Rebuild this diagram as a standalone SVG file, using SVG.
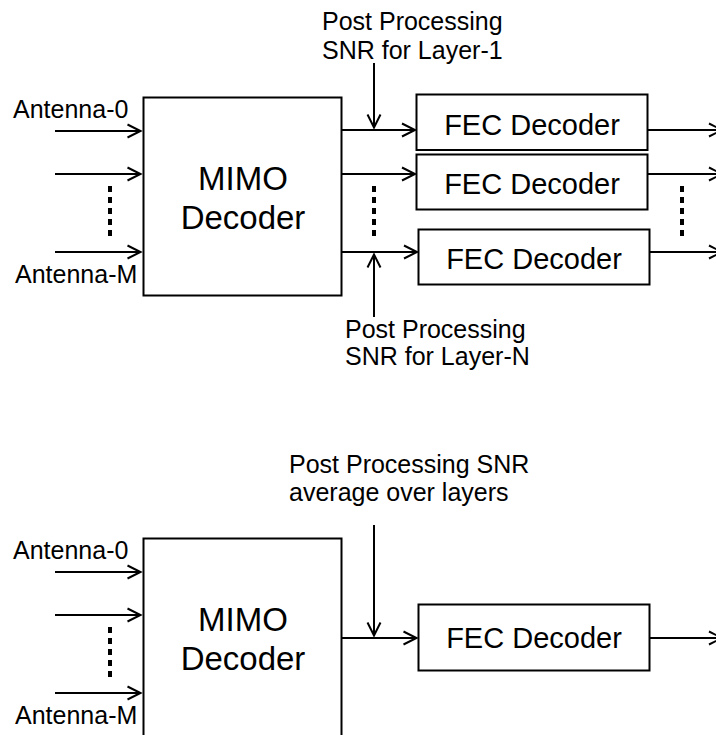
<svg xmlns="http://www.w3.org/2000/svg" width="716" height="735" viewBox="0 0 716 735">
<style>
  text { font-family: "Liberation Sans", Arial, sans-serif; fill: #000; }
  .lbl { font-size: 25px; }
  .mimo { font-size: 33px; text-anchor: middle; }
  .fec { font-size: 29px; text-anchor: middle; }
  .box { fill: #fff; stroke: #000; stroke-width: 2; }
  .ln { fill: none; stroke: #000; stroke-width: 2; }
  .arr { fill: none; stroke: #000; stroke-width: 2; marker-end: url(#ah); }
  .dots { fill: none; stroke: #000; stroke-width: 4; stroke-dasharray: 6 5; }
</style>
<defs>
  <marker id="ah" markerUnits="userSpaceOnUse" markerWidth="20" markerHeight="20" refX="0" refY="0" viewBox="-15 -10 20 20" orient="auto" overflow="visible">
    <path d="M-13,-6.5 L0,0 L-13,6.5" fill="none" stroke="#000" stroke-width="2"/>
  </marker>
</defs>
<rect x="0" y="0" width="716" height="735" fill="#fff"/>

<!-- Top diagram -->
<g id="mimo1">
  <rect class="box" x="143.5" y="97.5" width="198" height="198"/>
  <text class="mimo" x="243" y="190">MIMO</text>
  <text class="mimo" x="243" y="229">Decoder</text>
</g>
<g id="fec1">
  <rect class="box" x="416.5" y="94.5" width="231" height="55.5"/>
  <text class="fec" x="532" y="135">FEC Decoder</text>
</g>
<g id="fec2">
  <rect class="box" x="416.5" y="154.5" width="231" height="55"/>
  <text class="fec" x="532" y="194">FEC Decoder</text>
</g>
<g id="fec3">
  <rect class="box" x="418.5" y="229.5" width="231" height="55"/>
  <text class="fec" x="534" y="269">FEC Decoder</text>
</g>
<g id="labels-top">
  <text class="lbl" x="13" y="118">Antenna-0</text>
  <text class="lbl" x="15" y="283">Antenna-M</text>
  <text class="lbl" x="322" y="30">Post Processing</text>
  <text class="lbl" x="322" y="59">SNR for Layer-1</text>
  <text class="lbl" x="345" y="338">Post Processing</text>
  <text class="lbl" x="345" y="365">SNR for Layer-N</text>
</g>

<!-- Bottom diagram -->
<g id="mimo2">
  <rect class="box" x="143.5" y="538.5" width="198" height="210"/>
  <text class="mimo" x="243" y="631">MIMO</text>
  <text class="mimo" x="243" y="670">Decoder</text>
</g>
<g id="fec4">
  <rect class="box" x="418.5" y="604.5" width="231" height="66"/>
  <text class="fec" x="534" y="648">FEC Decoder</text>
</g>
<g id="labels-bottom">
  <text class="lbl" x="13" y="559">Antenna-0</text>
  <text class="lbl" x="15" y="724">Antenna-M</text>
  <text class="lbl" x="289" y="473">Post Processing SNR</text>
  <text class="lbl" x="289" y="501">average over layers</text>
</g>

<g id="connectors">
  <!-- top inputs -->
  <line class="arr" x1="55" y1="131" x2="140.5" y2="131"/>
  <line class="arr" x1="55" y1="174" x2="140.5" y2="174"/>
  <line class="arr" x1="55" y1="252" x2="140.5" y2="252"/>
  <line class="dots" x1="110" y1="186" x2="110" y2="241"/>
  <!-- top MIMO to FEC -->
  <line class="arr" x1="342" y1="130" x2="415" y2="130"/>
  <line class="arr" x1="342" y1="174" x2="415" y2="174"/>
  <line class="arr" x1="342" y1="252" x2="417" y2="252"/>
  <line class="dots" x1="374" y1="186" x2="374" y2="241"/>
  <!-- SNR arrows -->
  <line class="arr" x1="374" y1="63" x2="374" y2="127.5"/>
  <line class="arr" x1="374" y1="317" x2="374" y2="254.5"/>
  <!-- top outputs -->
  <line class="arr" x1="647.5" y1="130" x2="722" y2="130"/>
  <line class="arr" x1="647.5" y1="174" x2="722" y2="174"/>
  <line class="arr" x1="649.5" y1="252" x2="722" y2="252"/>
  <line class="dots" x1="682" y1="186" x2="682" y2="241"/>
  <!-- bottom inputs -->
  <line class="arr" x1="55" y1="572" x2="140.5" y2="572"/>
  <line class="arr" x1="55" y1="615" x2="140.5" y2="615"/>
  <line class="arr" x1="55" y1="693" x2="140.5" y2="693"/>
  <line class="dots" x1="110" y1="627" x2="110" y2="682"/>
  <!-- bottom MIMO to FEC -->
  <line class="arr" x1="342" y1="638" x2="416.5" y2="638"/>
  <line class="arr" x1="374" y1="525" x2="374" y2="635.5"/>
  <line class="arr" x1="649.5" y1="638" x2="722" y2="638"/>
</g>
</svg>
